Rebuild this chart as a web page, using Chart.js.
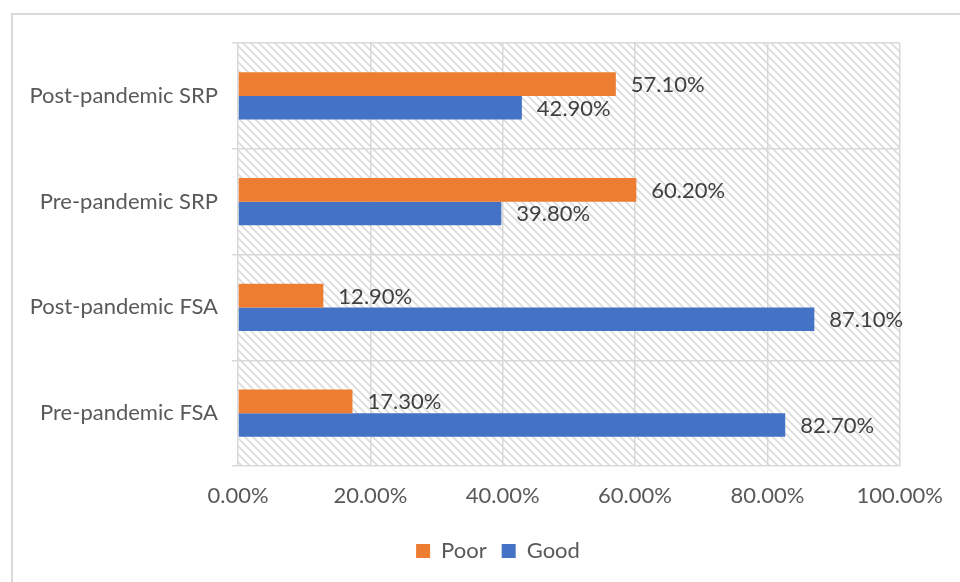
<!DOCTYPE html>
<html>
<head>
<meta charset="utf-8">
<script src="https://cdn.jsdelivr.net/npm/chart.js@4"></script>
<style>
  html, body { margin: 0; padding: 0; background: #fff; overflow: hidden; }
  #wrap { position: relative; width: 960px; height: 582px; }
  #frame { position: absolute; left: 11px; top: 13px; width: 1000px; height: 1000px; border: 2px solid #d9d9d9; }
  canvas { position: absolute; left: 0; top: 0; }
</style>
</head>
<body>
<div id="wrap">
  <div id="frame"></div>
  <canvas id="chart" width="960" height="582"></canvas>
</div>
<script>
// categories, top to bottom
const categories = ['Post-pandemic SRP', 'Pre-pandemic SRP', 'Post-pandemic FSA', 'Pre-pandemic FSA'];
const poorValues = [57.1, 60.2, 12.9, 17.3];
const goodValues = [42.9, 39.8, 87.1, 82.7];
const xTicks = [0, 20, 40, 60, 80, 100];

const textColor = '#595959';
const fontFamily = 'Lato, "Open Sans", sans-serif';
const fontSize = 22;

// light diagonal hatch for the plot area
function makeHatch() {
  const c = document.createElement('canvas');
  c.width = 8; c.height = 8;
  const g = c.getContext('2d');
  g.strokeStyle = '#dcdcdc';
  g.lineWidth = 1.8;
  g.beginPath();
  g.moveTo(-2, -2); g.lineTo(10, 10);
  g.moveTo(-2, 6); g.lineTo(2, 10);
  g.moveTo(6, -2); g.lineTo(10, 2);
  g.stroke();
  return c;
}

const hatchPlugin = {
  id: 'hatch',
  beforeDraw(chart) {
    const { ctx, chartArea: a } = chart;
    ctx.save();
    ctx.fillStyle = ctx.createPattern(makeHatch(), 'repeat');
    ctx.fillRect(a.left, a.top, a.right - a.left, a.bottom - a.top);
    ctx.restore();
    // nudge legend to the right, like the original
    chart.legend.left += 48;
    chart.legend.right += 48;
  }
};

const valueLabels = {
  id: 'valueLabels',
  afterDatasetsDraw(chart) {
    const ctx = chart.ctx;
    ctx.save();
    ctx.font = fontSize + 'px ' + fontFamily;
    ctx.fillStyle = '#404040';
    ctx.textBaseline = 'middle';
    ctx.textAlign = 'left';
    chart.data.datasets.forEach((ds, i) => {
      chart.getDatasetMeta(i).data.forEach((bar, j) => {
        ctx.fillText(ds.data[j].toFixed(2) + '%', bar.x + 15, bar.y + 1);
      });
    });
    ctx.restore();
  }
};

new Chart(document.getElementById('chart'), {
  type: 'bar',
  data: {
    labels: categories,
    datasets: [
      { label: 'Poor', data: poorValues, backgroundColor: '#ED7D31' },
      { label: 'Good', data: goodValues, backgroundColor: '#4472C4' }
    ]
  },
  options: {
    indexAxis: 'y',
    responsive: false,
    animation: false,
    categoryPercentage: 0.445,
    barPercentage: 1,
    layout: { padding: { top: 43, right: 60, bottom: 10, left: 0 } },
    scales: {
      x: {
        min: 0, max: 100,
        afterBuildTicks(scale) { scale.ticks = xTicks.map(v => ({ value: v })); },
        afterFit(scale) { scale.height = 59; },
        grid: { color: '#d9d9d9', lineWidth: 1.5, drawTicks: false },
        border: { display: false },
        ticks: {
          padding: 17,
          color: textColor,
          font: { family: fontFamily, size: fontSize },
          callback: v => v.toFixed(2) + '%'
        }
      },
      y: {
        afterFit(scale) { scale.width = 238; },
        grid: { color: '#d9d9d9', lineWidth: 1.5, offset: true, tickLength: 6 },
        border: { display: false },
        ticks: {
          padding: 14,
          color: textColor,
          font: { family: fontFamily, size: fontSize }
        }
      }
    },
    plugins: {
      legend: {
        position: 'bottom',
        labels: {
          boxWidth: 14, boxHeight: 14, padding: 15,
          color: textColor,
          font: { family: fontFamily, size: fontSize }
        }
      },
      tooltip: { enabled: false }
    }
  },
  plugins: [hatchPlugin, valueLabels]
});
</script>
</body>
</html>
